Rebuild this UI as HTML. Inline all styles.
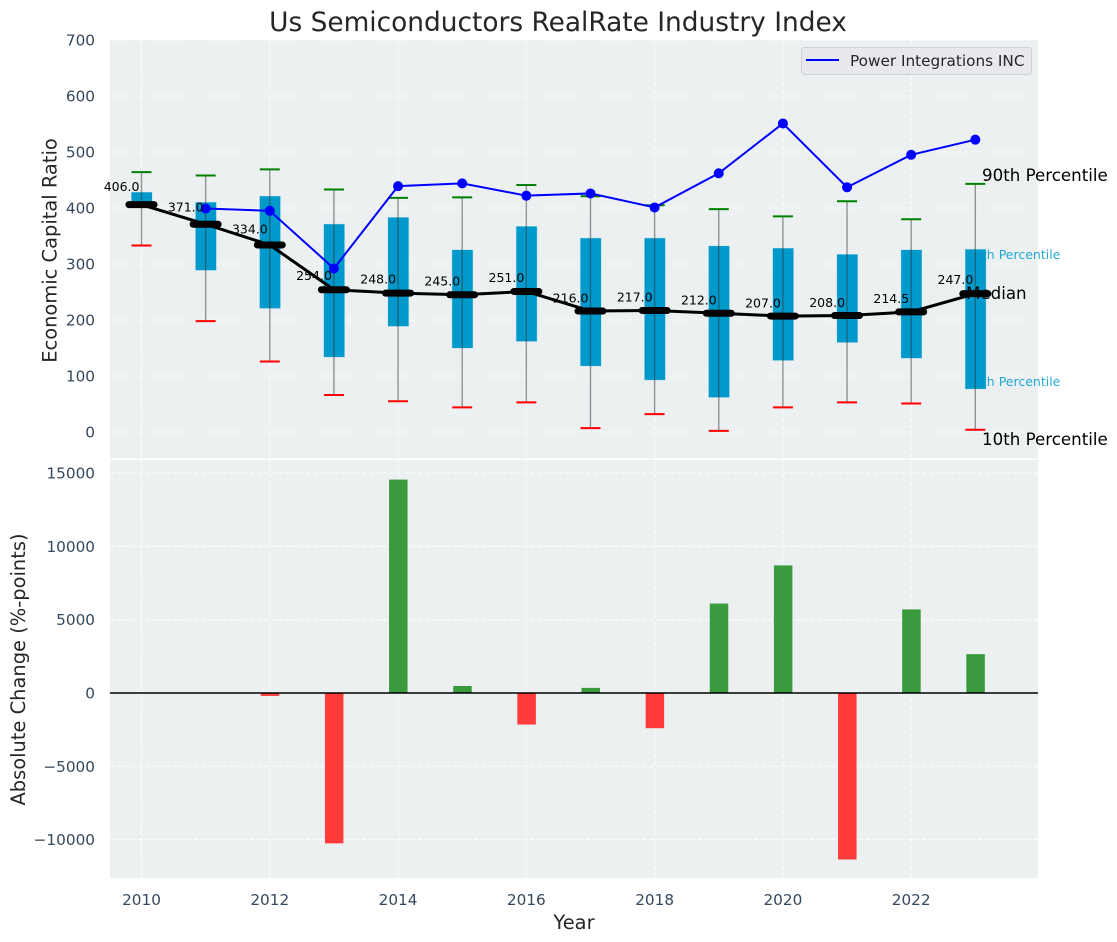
<!DOCTYPE html>
<html lang="en">
<head>
<meta charset="utf-8">
<title>Us Semiconductors RealRate Industry Index</title>
<style>
html,body{margin:0;padding:0;background:#fff;}
svg{display:block;font-family:"DejaVu Sans","Liberation Sans",sans-serif;}
.tick{font-size:15.28px;fill:#34495e;}
.axis-title{font-size:19.44px;fill:#262626;}
.annot{font-size:16.67px;fill:#000;}
.cy{font-size:12.5px;fill:#009acd;fill-opacity:.85;}
.val{font-size:12.5px;fill:#000;}
</style>
</head>
<body>
<svg id="chart" width="1117" height="942" viewBox="0 0 1117 942" xmlns="http://www.w3.org/2000/svg">
  <rect x="110" y="40" width="928" height="418.5" fill="#ecf0f1"/>
  <rect x="110" y="460" width="928" height="418" fill="#ecf0f1"/>
  <g id="grid"></g>
  <g>
    <text class="cy" x="966" y="259">75th Percentile</text>
    <text class="cy" x="966" y="386">25th Percentile</text>
  </g>
  <g id="bars"></g>
  <g id="boxes"></g>
  <g id="lines"></g>
  <g id="labels"></g>
  <g id="ticks"></g>

  <text x="558" y="31" text-anchor="middle" font-size="26.4" fill="#262626">Us Semiconductors RealRate Industry Index</text>
  <text class="axis-title" transform="translate(56.5,250.5) rotate(-90)" text-anchor="middle">Economic Capital Ratio</text>
  <text class="axis-title" transform="translate(25,669.5) rotate(-90)" text-anchor="middle">Absolute Change (%-points)</text>
  <text class="axis-title" x="574" y="929" text-anchor="middle">Year</text>

  <text class="annot" x="982" y="181">90th Percentile</text>
  <text class="annot" x="966" y="299">Median</text>
  <text class="annot" x="982" y="445">10th Percentile</text>

  <g>
    <rect x="801.5" y="47.5" width="230" height="27" rx="3" fill="#e8e9ef" stroke="#cfd1d6" stroke-width="1"/>
    <line x1="806" y1="60" x2="839" y2="60" stroke="#0000ff" stroke-width="2"/>
    <text x="850" y="66" font-size="15.28" fill="#262626">Power Integrations INC</text>
  </g>
</svg>
<script>
const years = [2010,2011,2012,2013,2014,2015,2016,2017,2018,2019,2020,2021,2022,2023];
const p90 = [464,458,469,433,418,419,441,421,405,398,385,412,380,443];
const p75 = [428,410,421,371,383,325,367,346,346,332,328,317,325,326];
const medians = [406,371,334,254,248,245,251,216,217,212,207,208,214.5,247];
const p25 = [406,289,221,134,189,150,162,118,93,62,128,160,132,77];
const p10 = [333,198,126,66,55,44,53,7,32,2,44,53,51,4];
const company = [null,399,395,292,439,444,422,426,401,462,551,437,495,522];
const changes = [null,null,-200,-10250,14550,480,-2150,350,-2400,6100,8700,-11350,5700,2650];
const xTicks = [2010,2012,2014,2016,2018,2020,2022];
const topYTicks = [0,100,200,300,400,500,600,700];
const bottomYTicks = [-10000,-5000,0,5000,10000,15000];

const NS = 'http://www.w3.org/2000/svg';
const xScale = v => 141.5 + (v - 2010) * 64.14;
const yTop = v => 432 - v * 0.56;
const yBottom = v => 693 - v * 0.014667;
const fmtTick = v => (v < 0 ? '\u2212' : '') + Math.abs(v);

function make(tag, parentId, attrs, text) {
  const el = document.createElementNS(NS, tag);
  for (const k in attrs) el.setAttribute(k, attrs[k]);
  if (text !== undefined) el.textContent = text;
  document.getElementById(parentId).appendChild(el);
  return el;
}
const dash = {stroke:'#ffffff','stroke-width':1,'stroke-dasharray':'4.5 2.5',opacity:.9};

xTicks.forEach(t => {
  const a = make('line','grid',Object.assign({x1:xScale(t),x2:xScale(t),y1:40,y2:458},dash));
  
  
  const b = make('line','grid',Object.assign({x1:xScale(t),x2:xScale(t),y1:460,y2:878},dash));
  
  
  const l = make('text','ticks',{class:'tick',x:xScale(t),y:905,'text-anchor':'middle'},String(t));
  
  
});
topYTicks.forEach(t => {
  const g = make('line','grid',Object.assign({x1:110,x2:1038,y1:yTop(t),y2:yTop(t)},dash));
  
  
  const l = make('text','ticks',{class:'tick',x:95,y:yTop(t)+5.5,'text-anchor':'end'},fmtTick(t));
  
  
});
bottomYTicks.forEach(t => {
  const g = make('line','grid',Object.assign({x1:110,x2:1038,y1:yBottom(t),y2:yBottom(t)},dash));
  
  
  const l = make('text','ticks',{class:'tick',x:95,y:yBottom(t)+5.5,'text-anchor':'end'},fmtTick(t));
  
  
});

years.forEach((yr, i) => {
  const cx = xScale(yr);
  const box = make('rect','boxes',{x:cx-10,y:yTop(p75[i]),width:20.5,height:yTop(p25[i])-yTop(p75[i]),fill:'#0099cc',stroke:'#0099cc','stroke-opacity':.2,'stroke-width':1});
  
  
  const w = make('line','boxes',{x1:cx,x2:cx,y1:yTop(p90[i]),y2:yTop(p10[i]),stroke:'#333333','stroke-opacity':.5,'stroke-width':1.4});
  
  
  const hi = make('line','boxes',{x1:cx-10,x2:cx+10,y1:yTop(p90[i]),y2:yTop(p90[i]),stroke:'#008000','stroke-width':2});
  
  
  const lo = make('line','boxes',{x1:cx-10,x2:cx+10,y1:yTop(p10[i]),y2:yTop(p10[i]),stroke:'#ff0000','stroke-width':2});
  
  
  const v = make('text','labels',{class:'val',x:cx-2,y:yTop(medians[i])-(8.5+(medians[i]-207)*0.025),'text-anchor':'end'},medians[i].toFixed(1));
  
  
  if (changes[i] !== null) {
    const y0 = yBottom(0), y1 = yBottom(changes[i]);
    const bar = make('rect','bars',{x:cx-9,y:Math.min(y0,y1),width:18.5,height:Math.abs(y1-y0),fill:changes[i] >= 0 ? '#3a9b3e' : '#ff3b3b'});
    
    
  }
});

const zero = make('line','bars',{x1:110,x2:1038,y1:yBottom(0),y2:yBottom(0),stroke:'#000','stroke-width':1.6});



const medPts = years.map((yr,i) => xScale(yr) + ',' + yTop(medians[i])).join(' ');
const medLine = make('polyline','lines',{points:medPts,fill:'none',stroke:'#000','stroke-width':3});


years.forEach((yr,i) => {
  const m = make('line','lines',{x1:xScale(yr)-12.5,x2:xScale(yr)+12.5,y1:yTop(medians[i]),y2:yTop(medians[i]),stroke:'#000','stroke-width':7,'stroke-linecap':'round'});
  
  
});

const coPts = years.map((yr,i) => company[i] === null ? null : xScale(yr) + ',' + yTop(company[i])).filter(Boolean).join(' ');
const coLine = make('polyline','lines',{points:coPts,fill:'none',stroke:'#0000ff','stroke-width':2});


years.forEach((yr,i) => {
  if (company[i] === null) return;
  const c = make('circle','lines',{cx:xScale(yr),cy:yTop(company[i]),r:5,fill:'#0000ff'});
  
  
});
</script>
</body>
</html>
